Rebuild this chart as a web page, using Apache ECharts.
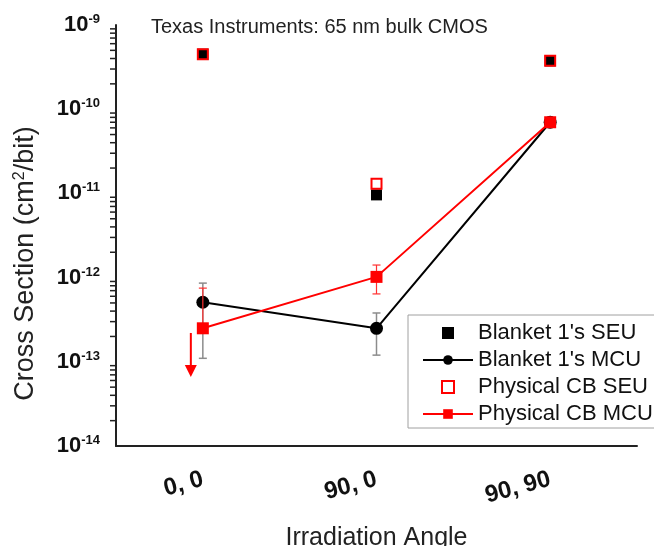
<!DOCTYPE html>
<html>
<head>
<meta charset="utf-8">
<script src="https://cdn.jsdelivr.net/npm/echarts@6/dist/echarts.min.js"></script>
<style>
  html, body { margin: 0; padding: 0; background: #fff; }
  #chart { width: 654px; height: 546px; }
</style>
</head>
<body>
<div id="chart"></div>
<script>
// Irradiation angles (tilt, rotation) on the category axis
const angles = ['0, 0', '90, 0', '90, 90'];

// Cross sections in cm^2/bit
const blanketSeu = [4.5e-10, 9.6e-12, 3.75e-10];
const blanketMcu = [5.1e-13, 2.5e-13, 7.0e-11];
const blanketMcuErrLow = [1.1e-13, 1.2e-13, null];
const blanketMcuErrHigh = [8.6e-13, 3.8e-13, null];

const cbSeu = [4.5e-10, 1.3e-11, 3.75e-10];
const cbMcu = [2.5e-13, 1.02e-12, 7.0e-11];
const cbMcuErrLow = [null, 6.4e-13, null];
const cbMcuErrHigh = [7.5e-13, 1.41e-12, null];

// Upper-limit arrow for Physical CB MCU at 0, 0: [category index, from, to]
const cbMcuLimit = [[0, 2.2e-13, 6.6e-14]];

// Log-axis decades and the minor tick multipliers inside each decade
const decadeExponents = [-14, -13, -12, -11, -10];
const minorMultipliers = [2, 3, 4, 5, 6, 7, 8, 9];

const FONT = '"Liberation Sans", Arial, sans-serif';
const SQUARE = 'path://M0,0H10V10H0Z';
const minorTickValues = [];
decadeExponents.forEach(e => minorMultipliers.forEach(m => minorTickValues.push(m * Math.pow(10, e))));

function errorBarRenderer(centers, lows, highs, color, width) {
  return function (params, api) {
    const i = params.dataIndex;
    const c = centers[i];
    const lo = lows[i], hi = highs[i];
    if (lo == null && hi == null) return null;
    const pTop = api.coord([i, hi != null ? hi : c]);
    const pBot = api.coord([i, lo != null ? lo : c]);
    const x = pTop[0];
    const style = { stroke: color, lineWidth: width };
    const children = [{
      type: 'line', shape: { x1: x, y1: pTop[1], x2: x, y2: pBot[1] }, style: style
    }];
    if (hi != null) children.push({ type: 'line', shape: { x1: x - 4, y1: pTop[1], x2: x + 4, y2: pTop[1] }, style: style });
    if (lo != null) children.push({ type: 'line', shape: { x1: x - 4, y1: pBot[1], x2: x + 4, y2: pBot[1] }, style: style });
    return { type: 'group', children: children };
  };
}

const chart = echarts.init(document.getElementById('chart'), null, { renderer: 'canvas' });

const yRange = { min: 1e-14, max: 1e-9 };

chart.setOption({
  animation: false,
  backgroundColor: '#fff',
  textStyle: { fontFamily: FONT },
  title: {
    text: 'Texas Instruments: 65 nm bulk CMOS',
    left: 146, top: 12,
    textStyle: { fontSize: 20, fontWeight: 'normal', color: '#222', fontFamily: FONT }
  },
  grid: { left: 116, right: 17, top: 25, bottom: 100, containLabel: false, outerBoundsMode: 'none' },
  legend: {
    orient: 'vertical',
    left: 408, top: 315,
    padding: [7, 4, 3, 14],
    itemGap: 5,
    itemWidth: 50,
    itemHeight: 12,
    borderColor: '#a0a0a0',
    borderWidth: 1,
    backgroundColor: '#fff',
    data: ["Blanket 1's SEU", "Blanket 1's MCU", 'Physical CB SEU', 'Physical CB MCU'],
    textStyle: { fontSize: 22, lineHeight: 22, color: '#111', fontFamily: FONT }
  },
  xAxis: [{
    type: 'category',
    data: angles,
    boundaryGap: true,
    name: 'Irradiation Angle',
    nameLocation: 'middle',
    nameGap: 80,
    nameTextStyle: { fontSize: 25, color: '#222', fontFamily: FONT },
    axisLine: { lineStyle: { color: '#222', width: 2 } },
    axisTick: { alignWithLabel: true, length: 8, lineStyle: { color: '#222', width: 2 } },
    axisLabel: { rotate: 15, margin: 33, fontSize: 24, fontWeight: 'bold', color: '#111', fontFamily: FONT },
    splitLine: { show: false }
  }, {
    type: 'category',
    data: angles,
    position: 'bottom',
    boundaryGap: true,
    axisLine: { show: false },
    axisTick: { alignWithLabel: true, inside: true, length: 8, lineStyle: { color: '#222', width: 2 } },
    axisLabel: { show: false },
    splitLine: { show: false }
  }],
  yAxis: [{
    type: 'log',
    logBase: 10,
    min: yRange.min, max: yRange.max,
    splitNumber: 5,
    name: '{n|Cross Section (cm}{sup|2}{n|/bit)}',
    nameLocation: 'middle',
    nameGap: 76,
    nameTextStyle: {
      padding: [0, 56, 0, 0],
      rich: {
        n: { fontSize: 27, color: '#222', fontFamily: FONT, lineHeight: 28 },
        sup: { fontSize: 16, color: '#222', fontFamily: FONT, verticalAlign: 'top', lineHeight: 16 }
      }
    },
    axisLine: { show: true, lineStyle: { color: '#222', width: 2 } },
    axisTick: { length: 8, lineStyle: { color: '#222', width: 2 } },
    axisLabel: {
      margin: 16,
      formatter: v => '{b|10}{s|' + Math.round(Math.log10(v)) + '}',
      rich: {
        b: { fontSize: 22, fontWeight: 'bold', color: '#111', fontFamily: FONT, lineHeight: 24 },
        s: { fontSize: 13, fontWeight: 'bold', color: '#111', fontFamily: FONT, verticalAlign: 'top', lineHeight: 13 }
      }
    },
    splitLine: { show: false }
  }, {
    type: 'log',
    logBase: 10,
    min: yRange.min, max: yRange.max,
    splitNumber: 5,
    position: 'left',
    axisLine: { show: false },
    axisTick: { inside: true, length: 8, lineStyle: { color: '#222', width: 2 } },
    axisLabel: { show: false },
    splitLine: { show: false }
  }],
  series: [
    {
      // log-axis minor ticks, drawn just outside the left axis line
      type: 'custom',
      name: 'minorTicks',
      silent: true,
      clip: false,
      z: 1,
      data: minorTickValues.map(v => [0, v]),
      renderItem: function (params, api) {
        const p = api.coord([0, api.value(1)]);
        const x0 = params.coordSys.x;
        return { type: 'line', shape: { x1: x0 - 6, y1: p[1], x2: x0, y2: p[1] },
                 style: { stroke: '#222', lineWidth: 1.5 } };
      }
    },
    {
      type: 'custom',
      name: 'blanketMcuErr',
      silent: true,
      z: 2,
      data: angles.map((a, i) => [i, blanketMcu[i]]),
      renderItem: errorBarRenderer(blanketMcu, blanketMcuErrLow, blanketMcuErrHigh, '#8c8c8c', 1.5)
    },
    {
      name: "Blanket 1's MCU",
      type: 'line',
      data: blanketMcu,
      symbol: 'circle',
      symbolSize: 13,
      z: 3,
      itemStyle: { color: '#000' },
      lineStyle: { color: '#000', width: 2 }
    },
    {
      type: 'custom',
      name: 'cbMcuErr',
      silent: true,
      z: 4,
      data: angles.map((a, i) => [i, cbMcu[i]]),
      renderItem: errorBarRenderer(cbMcu, cbMcuErrLow, cbMcuErrHigh, '#ff3030', 1.2)
    },
    {
      type: 'custom',
      name: 'cbMcuLimit',
      silent: true,
      z: 4,
      data: cbMcuLimit,
      renderItem: function (params, api) {
        const p1 = api.coord([api.value(0), api.value(1)]);
        const p2 = api.coord([api.value(0), api.value(2)]);
        const x = p1[0] - 12;
        return {
          type: 'group',
          children: [
            { type: 'line', shape: { x1: x, y1: p1[1], x2: x, y2: p2[1] - 10 },
              style: { stroke: '#ff0000', lineWidth: 2 } },
            { type: 'polygon', shape: { points: [[x - 6, p2[1] - 12], [x + 6, p2[1] - 12], [x, p2[1]]] },
              style: { fill: '#ff0000' } }
          ]
        };
      }
    },
    {
      name: 'Physical CB MCU',
      type: 'line',
      data: cbMcu,
      symbol: 'rect',
      symbolSize: 12,
      z: 5,
      itemStyle: { color: '#ff0000' },
      lineStyle: { color: '#ff0000', width: 2 }
    },
    {
      name: "Blanket 1's SEU",
      type: 'scatter',
      data: blanketSeu,
      symbol: SQUARE,
      symbolKeepAspect: true,
      symbolSize: 11,
      z: 6,
      itemStyle: { color: '#000', opacity: 1 }
    },
    {
      name: 'Physical CB SEU',
      type: 'scatter',
      data: cbSeu,
      symbol: SQUARE,
      symbolKeepAspect: true,
      symbolSize: 10,
      z: 7,
      itemStyle: { color: 'transparent', borderColor: '#ff0000', borderWidth: 2, opacity: 1 }
    }
  ]
});
</script>
</body>
</html>
